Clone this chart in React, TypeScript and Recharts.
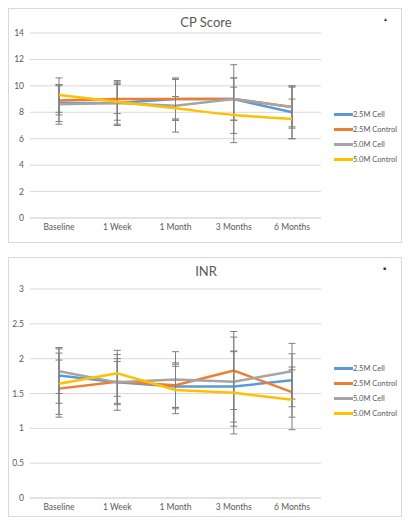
import { CartesianGrid, ErrorBar, Line, LineChart, XAxis, YAxis } from "recharts";

const categories = ["Baseline", "1 Week", "1 Month", "3 Months", "6 Months"];

const seriesNames = ["2.5M Cell", "2.5M Control", "5.0M Cell", "5.0M Control"];
const seriesColors = ["#5B9BD5", "#ED7D31", "#A5A5A5", "#FFC000"];

// CP Score (mean and +/- error)
const cpCell25 = [8.7, 8.7, 9.0, 9.0, 8.0];
const cpCtrl25 = [8.9, 9.0, 9.0, 9.0, 8.4];
const cpCell50 = [8.6, 8.7, 8.5, 9.0, 8.4];
const cpCtrl50 = [9.3, 8.8, 8.3, 7.8, 7.5];
const cpErrCell25 = [1.4, 1.6, 1.5, 1.6, 2.0];
const cpErrCtrl25 = [1.1, 1.1, 1.6, 2.6, 1.6];
const cpErrCell50 = [1.5, 1.7, 2.0, 1.6, 1.5];
const cpErrCtrl50 = [1.3, 1.4, 0.9, 2.1, 1.5];
const cpTicks = [0, 2, 4, 6, 8, 10, 12, 14];

// INR
const inrCell25 = [1.76, 1.66, 1.6, 1.6, 1.69];
const inrCtrl25 = [1.57, 1.67, 1.62, 1.83, 1.52];
const inrCell50 = [1.82, 1.66, 1.7, 1.67, 1.82];
const inrCtrl50 = [1.64, 1.79, 1.55, 1.51, 1.41];
const inrErrCell25 = [0.4, 0.4, 0.32, 0.51, 0.38];
const inrErrCtrl25 = [0.41, 0.33, 0.32, 0.56, 0.36];
const inrErrCell50 = [0.32, 0.3, 0.4, 0.64, 0.4];
const inrErrCtrl50 = [0.44, 0.33, 0.34, 0.59, 0.43];
const inrTicks = [0, 0.5, 1, 1.5, 2, 2.5, 3];

const FONT = "Lato, 'Open Sans', sans-serif";
const TEXT = "#595959";
const GRID = "#d9d9d9";
const ERR = "#7f7f7f";

function buildRows(vals: number[][], errs: number[][]) {
  return categories.map((c, i) => {
    const row: Record<string, string | number> = { name: c };
    vals.forEach((v, s) => {
      row["s" + s] = v[i];
      row["e" + s] = errs[s][i];
    });
    return row;
  });
}

const cpData = buildRows(
  [cpCell25, cpCtrl25, cpCell50, cpCtrl50],
  [cpErrCell25, cpErrCtrl25, cpErrCell50, cpErrCtrl50]
);
const inrData = buildRows(
  [inrCell25, inrCtrl25, inrCell50, inrCtrl50],
  [inrErrCell25, inrErrCtrl25, inrErrCell50, inrErrCtrl50]
);

function LegendBox({ top }: { top: number }) {
  return (
    <div style={{ position: "absolute", left: 325, top, fontFamily: FONT, fontSize: 7.5, color: TEXT, whiteSpace: "nowrap" }}>
      {seriesNames.map((n, i) => (
        <div key={n} style={{ display: "flex", alignItems: "center", height: 15 }}>
          <span style={{ display: "inline-block", width: 19, height: 2.5, background: seriesColors[i] }} />
          <span>{n}</span>
        </div>
      ))}
    </div>
  );
}

function Panel({
  title,
  data,
  ticks,
  height,
  top,
  bottom,
  legendTop,
  smoothLast,
  glyph,
}: {
  title: string;
  data: Record<string, string | number>[];
  ticks: number[];
  height: number;
  top: number;
  bottom: number;
  legendTop: number;
  smoothLast: boolean;
  glyph: string;
}) {
  const W = 394;
  return (
    <div style={{ position: "relative", width: W, height, border: "1px solid #d9d9d9", boxSizing: "border-box", background: "#fff" }}>
      <div style={{ position: "absolute", left: 0, width: 394, top: 5, textAlign: "center", fontFamily: FONT, fontSize: 13, color: TEXT }}>
        {title}
      </div>
      <div style={{ position: "absolute", left: 374, top: 8, fontSize: 5, color: "#333" }}>{glyph}</div>
      <div style={{ position: "absolute", left: 0, top: 0 }}>
        <LineChart width={W} height={height} data={data} margin={{ top, right: 82, left: 0, bottom: 0 }}>
          <CartesianGrid vertical={false} stroke={GRID} />
          <XAxis
            dataKey="name"
            axisLine={{ stroke: GRID }}
            tickLine={false}
            tickSize={0}
            tickMargin={6}
            height={bottom}
            interval={0}
            padding={{ left: 29, right: 29 }}
            tick={{ fill: TEXT, fontSize: 8.5, fontFamily: FONT }}
          />
          <YAxis
            domain={[ticks[0], ticks[ticks.length - 1]]}
            ticks={ticks}
            axisLine={false}
            tickLine={false}
            tickSize={0}
            tickMargin={6}
            width={21}
            interval={0}
            tick={{ fill: TEXT, fontSize: 8.5, fontFamily: FONT }}
          />
          {seriesNames.map((n, i) => (
            <Line
              key={n}
              name={n}
              dataKey={"s" + i}
              type={smoothLast && i === 3 ? "monotone" : "linear"}
              stroke={seriesColors[i]}
              strokeWidth={2.5}
              dot={false}
              activeDot={false}
              isAnimationActive={false}
            >
              <ErrorBar dataKey={"e" + i} width={3.5} strokeWidth={1} stroke={ERR} direction="y" isAnimationActive={false} />
            </Line>
          ))}
        </LineChart>
      </div>
      <LegendBox top={legendTop} />
    </div>
  );
}

export default function App() {
  return (
    <div style={{ width: 394 }}>
      <Panel title="CP Score" data={cpData} ticks={cpTicks} height={235} top={24} bottom={26} legendTop={98} smoothLast glyph="▲" />
      <div style={{ height: 14 }} />
      <Panel title="INR" data={inrData} ticks={inrTicks} height={260} top={31} bottom={20} legendTop={103} smoothLast={false} glyph="■" />
    </div>
  );
}
